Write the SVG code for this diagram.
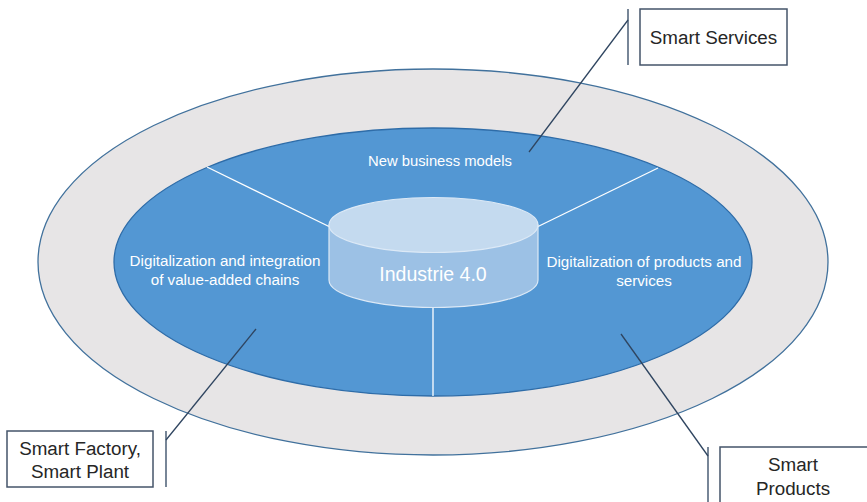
<svg xmlns="http://www.w3.org/2000/svg" width="867" height="502" viewBox="0 0 867 502">
<style>
  .lbl { font-family: "Liberation Sans", Arial, sans-serif; fill: #ffffff; text-anchor: middle; }
  .box { fill: #ffffff; stroke: #44546a; stroke-width: 1.5; }
  .btxt { font-family: "Liberation Sans", Arial, sans-serif; fill: #262626; font-size: 18.8px; text-anchor: middle; }
  .lead { stroke: #2f4560; stroke-width: 1.3; fill: none; }
  .spoke { stroke: #ffffff; stroke-width: 1.3; fill: none; }
</style>
<rect width="867" height="502" fill="#ffffff"/>
<g id="outer-ring">
  <ellipse cx="433" cy="262" rx="395" ry="193" fill="#e7e5e6" stroke="#41719c" stroke-width="1.3"/>
</g>
<g id="inner-disc">
  <ellipse cx="433" cy="262" rx="319" ry="134" fill="#5397d3" stroke="#2e6ca8" stroke-width="1.3"/>
</g>
<g id="connectors">
  <line class="spoke" x1="207" y1="167" x2="330" y2="227"/>
  <line class="spoke" x1="658" y1="168" x2="537" y2="227"/>
  <line class="spoke" x1="433" y1="307" x2="433" y2="396"/>
  <line class="lead" x1="628" y1="9" x2="628" y2="65"/>
  <line class="lead" x1="628" y1="20" x2="529" y2="152"/>
  <line class="lead" x1="166" y1="431" x2="166" y2="487"/>
  <line class="lead" x1="166" y1="440" x2="256" y2="329"/>
  <line class="lead" x1="708" y1="447" x2="708" y2="502"/>
  <line class="lead" x1="708" y1="456" x2="621" y2="334"/>
</g>
<g id="new-business-models">
  <text class="lbl" x="440" y="166" font-size="14.8">New business models</text>
</g>
<g id="value-chains">
  <text class="lbl" x="225" y="266" font-size="15.2">Digitalization and integration</text>
  <text class="lbl" x="225" y="285" font-size="15.2">of value-added chains</text>
</g>
<g id="products-services">
  <text class="lbl" x="644" y="267" font-size="15.2">Digitalization of products and</text>
  <text class="lbl" x="644" y="286" font-size="15.2">services</text>
</g>
<g id="industrie40">
  <path d="M329,225 L329,280 A104.5,27.5 0 0 0 538,280 L538,225 Z" fill="#9cc1e5" stroke="#dce9f6" stroke-width="1.2"/>
  <ellipse cx="433.5" cy="225" rx="104.5" ry="27.5" fill="#c4daef" stroke="#dce9f6" stroke-width="1.2"/>
  <text class="lbl" x="433" y="281" font-size="19.5">Industrie 4.0</text>
</g>
<g id="smart-services">
  <rect class="box" x="640" y="9" width="147" height="56"/>
  <text class="btxt" x="713.5" y="44">Smart Services</text>
</g>
<g id="smart-factory">
  <rect class="box" x="7" y="431" width="146" height="56"/>
  <text class="btxt" x="80" y="455">Smart Factory,</text>
  <text class="btxt" x="80" y="478">Smart Plant</text>
</g>
<g id="smart-products">
  <rect class="box" x="720" y="447" width="160" height="70"/>
  <text class="btxt" x="793" y="471">Smart</text>
  <text class="btxt" x="793" y="495">Products</text>
</g>
</svg>
